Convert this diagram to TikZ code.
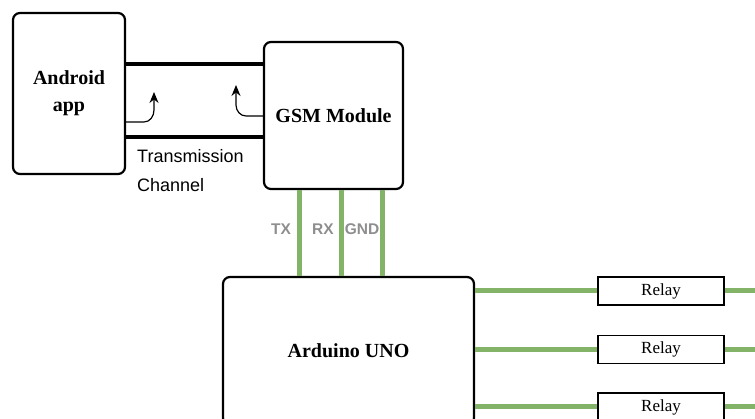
\documentclass[tikz,border=0pt]{standalone}
\usepackage{fontspec}
\setmainfont{Liberation Serif}
\setsansfont{Liberation Sans}
\usetikzlibrary{arrows.meta}
\definecolor{wire}{HTML}{82B366}
\definecolor{lbl}{HTML}{8E8E8E}
\begin{document}
\begin{tikzpicture}[x=1pt,y=-1pt,
  block/.style={draw=black,line width=2.2pt,rounded corners=7pt,fill=white,inner sep=0pt,
    font=\fontsize{20}{27}\selectfont\bfseries,align=center},
  relaybox/.style={draw=black,line width=1.3pt,fill=white,minimum width=126pt,minimum height=28pt,
    inner sep=0pt,font=\fontsize{17}{20}\selectfont},
  chan/.style={line width=4.5pt,black},
  greenwire/.style={line width=5pt,wire},
  pinlbl/.style={font=\sffamily\bfseries\fontsize{15.5}{18}\selectfont,text=lbl,inner sep=0pt},
  curvarr/.style={line width=1.2pt,-{Stealth[length=11pt,width=9pt]}},
]
\useasboundingbox (0,0) rectangle (755,419);
\clip (0,0) rectangle (755,419);
\node[block,minimum width=112pt,minimum height=161pt] (android) at (69,93.5) {Android\\app};
\node[block,minimum width=139pt,minimum height=147pt] (gsm) at (333.5,115.5) {GSM Module};
\node[block,minimum width=251pt,minimum height=148pt] (arduino) at (348.5,351) {Arduino UNO};
% transmission channel
\draw[chan] (android.east |- 0,64) -- (gsm.west |- 0,64);
\draw[chan] (android.east |- 0,137) -- (gsm.west |- 0,137);
\node[anchor=west,align=left,font=\sffamily\fontsize{18}{29}\selectfont,inner sep=0pt] (chanlbl) at (137,171) {Transmission\\Channel};
\draw[curvarr] (android.east |- 0,122) -- (144,122) to[out=0,in=-90] (154,110) -- (154,92);
\draw[curvarr] (gsm.west |- 0,116) -- (246,116) to[out=180,in=-90] (236,105) -- (236,85);
% pins
\draw[greenwire] ([xshift=-34.5pt]gsm.south) -- ([xshift=-34.5pt]gsm.south |- arduino.north);
\draw[greenwire] ([xshift=7.5pt]gsm.south) -- ([xshift=7.5pt]gsm.south |- arduino.north);
\draw[greenwire] ([xshift=48.5pt]gsm.south) -- ([xshift=48.5pt]gsm.south |- arduino.north);
\node[pinlbl] (tx) at (281,229) {TX};
\node[pinlbl] (rx) at (323,229) {RX};
\node[pinlbl] (gnd) at (362,229) {GND};
% relays
\node[relaybox] (r1) at (661,291) {Relay};
\node[relaybox] (r2) at (661,349.5) {Relay};
\node[relaybox] (r3) at (661,407) {Relay};
\coordinate (e1) at (760,291);
\coordinate (e2) at (760,349.5);
\coordinate (e3) at (760,407);
\draw[greenwire] (arduino.east |- r1.west) -- (r1.west);
\draw[greenwire] (arduino.east |- r2.west) -- (r2.west);
\draw[greenwire] (arduino.east |- r3.west) -- (r3.west);
\draw[greenwire] (r1.east) -- (e1);
\draw[greenwire] (r2.east) -- (e2);
\draw[greenwire] (r3.east) -- (e3);
\end{tikzpicture}
\end{document}
